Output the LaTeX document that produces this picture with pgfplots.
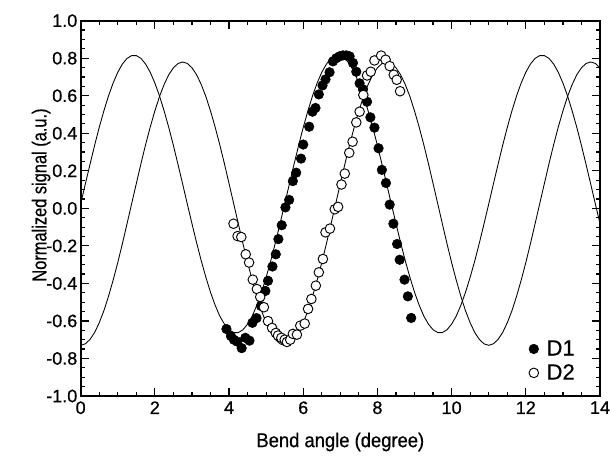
\documentclass[border=0pt]{standalone}
\usepackage{pgfplots}
\pgfplotsset{compat=1.18}
\usepackage{graphicx}
\usepackage{fontspec}
\setmainfont{Liberation Sans}[UprightFeatures={FakeBold=0.6}]
\begin{document}
\begin{tikzpicture}[x=1pt,y=1pt]
\path[use as bounding box] (-60.5,-44.25) rectangle (397,297);
\begin{axis}[
 scale only axis, width=389.5pt, height=281.5pt,
 xmin=0, xmax=14, ymin=-1, ymax=1,
 xtick={0,2,4,6,8,10,12,14},
 ytick={-1,-0.8,-0.6,-0.4,-0.2,0,0.2,0.4,0.6,0.8,1},
 minor x tick num=3, minor y tick num=3,
 tick align=inside, major tick length=6pt, minor tick length=3pt,
 axis line style={line width=1.4pt},
 every tick/.style={line width=0.9pt, black},
 /pgf/number format/assume math mode=true,
 ticklabel style={font=\fontsize{13.5}{15}\selectfont},
 xticklabel style={yshift=-0.5pt},
 yticklabel style={/pgf/number format/fixed, /pgf/number format/fixed zerofill, /pgf/number format/precision=1, xshift=1pt},
 xlabel={\scalebox{0.92}[1]{Bend angle (degree)}},
 ylabel={\scalebox{0.82}[1]{Normalized signal (a.u.)}},
 label style={font=\fontsize{15}{17}\selectfont},
 xlabel style={yshift=-7pt},
 ylabel style={yshift=-10pt, xshift=10pt},
 legend style={draw=none, fill=none, at={(0.975,0.02)}, anchor=south east,
   font=\fontsize{16.5}{18}\selectfont, row sep=-1pt,
   nodes={inner xsep=6pt, inner ysep=3pt}},
 legend cell align=left,
]
% fit curve for D1
\addplot[black, line width=0.65pt, forget plot] table {
x y
0 0.023
0.125 0.129
0.25 0.233
0.375 0.335
0.5 0.431
0.625 0.519
0.75 0.599
0.875 0.668
1.0 0.725
1.125 0.769
1.25 0.799
1.375 0.814
1.5 0.814
1.625 0.799
1.75 0.769
1.875 0.725
2.0 0.668
2.125 0.599
2.25 0.519
2.375 0.431
2.5 0.335
2.625 0.233
2.75 0.129
2.875 0.023
3.0 -0.081
3.125 -0.183
3.25 -0.279
3.375 -0.367
3.5 -0.447
3.625 -0.516
3.75 -0.574
3.875 -0.617
4.0 -0.647
4.125 -0.662
4.25 -0.662
4.375 -0.647
4.5 -0.617
4.625 -0.574
4.75 -0.516
4.875 -0.447
5.0 -0.367
5.125 -0.279
5.25 -0.183
5.375 -0.081
5.5 0.023
5.625 0.129
5.75 0.233
5.875 0.335
6.0 0.431
6.125 0.519
6.25 0.599
6.375 0.668
6.5 0.725
6.625 0.769
6.75 0.799
6.875 0.814
7.0 0.814
7.125 0.799
7.25 0.769
7.375 0.725
7.5 0.668
7.625 0.599
7.75 0.519
7.875 0.431
8.0 0.335
8.125 0.233
8.25 0.129
8.375 0.023
8.5 -0.081
8.625 -0.183
8.75 -0.279
8.875 -0.367
9.0 -0.447
9.125 -0.516
9.25 -0.574
9.375 -0.617
9.5 -0.647
9.625 -0.662
9.75 -0.662
9.875 -0.647
10.0 -0.617
10.125 -0.574
10.25 -0.516
10.375 -0.447
10.5 -0.367
10.625 -0.279
10.75 -0.183
10.875 -0.081
11.0 0.023
11.125 0.129
11.25 0.233
11.375 0.335
11.5 0.431
11.625 0.519
11.75 0.599
11.875 0.668
12.0 0.725
12.125 0.769
12.25 0.799
12.375 0.814
12.5 0.814
12.625 0.799
12.75 0.769
12.875 0.725
13.0 0.668
13.125 0.599
13.25 0.519
13.375 0.431
13.5 0.335
13.625 0.233
13.75 0.129
13.875 0.023
14.0 -0.081
};
% fit curve for D2
\addplot[black, line width=0.65pt, forget plot] table {
x y
0 -0.730
0.125 -0.722
0.25 -0.699
0.375 -0.662
0.5 -0.610
0.625 -0.546
0.75 -0.469
0.875 -0.383
1.0 -0.289
1.125 -0.188
1.25 -0.082
1.375 0.025
1.5 0.132
1.625 0.238
1.75 0.339
1.875 0.433
2.0 0.519
2.125 0.596
2.25 0.660
2.375 0.712
2.5 0.749
2.625 0.772
2.75 0.780
2.875 0.772
3.0 0.749
3.125 0.712
3.25 0.660
3.375 0.596
3.5 0.519
3.625 0.433
3.75 0.339
3.875 0.238
4.0 0.132
4.125 0.025
4.25 -0.082
4.375 -0.188
4.5 -0.289
4.625 -0.383
4.75 -0.469
4.875 -0.546
5.0 -0.610
5.125 -0.662
5.25 -0.699
5.375 -0.722
5.5 -0.730
5.625 -0.722
5.75 -0.699
5.875 -0.662
6.0 -0.610
6.125 -0.546
6.25 -0.469
6.375 -0.383
6.5 -0.289
6.625 -0.188
6.75 -0.082
6.875 0.025
7.0 0.132
7.125 0.238
7.25 0.339
7.375 0.433
7.5 0.519
7.625 0.596
7.75 0.660
7.875 0.712
8.0 0.749
8.125 0.772
8.25 0.780
8.375 0.772
8.5 0.749
8.625 0.712
8.75 0.660
8.875 0.596
9.0 0.519
9.125 0.433
9.25 0.339
9.375 0.238
9.5 0.132
9.625 0.025
9.75 -0.082
9.875 -0.188
10.0 -0.289
10.125 -0.383
10.25 -0.469
10.375 -0.546
10.5 -0.610
10.625 -0.662
10.75 -0.699
10.875 -0.722
11.0 -0.730
11.125 -0.722
11.25 -0.699
11.375 -0.662
11.5 -0.610
11.625 -0.546
11.75 -0.469
11.875 -0.383
12.0 -0.289
12.125 -0.188
12.25 -0.082
12.375 0.025
12.5 0.132
12.625 0.238
12.75 0.339
12.875 0.433
13.0 0.519
13.125 0.596
13.25 0.660
13.375 0.712
13.5 0.749
13.625 0.772
13.75 0.780
13.875 0.772
14.0 0.749
};
% D1
\addplot[only marks, mark=*, mark size=3.6pt, mark options={fill=black, draw=black}] table {
x y
3.93 -0.643
4.05 -0.680
4.13 -0.700
4.22 -0.710
4.34 -0.745
4.44 -0.690
4.55 -0.705
4.63 -0.610
4.74 -0.585
4.86 -0.520
4.98 -0.440
5.05 -0.386
5.17 -0.310
5.26 -0.245
5.33 -0.164
5.42 -0.090
5.52 0.005
5.62 0.045
5.72 0.145
5.81 0.190
5.94 0.265
6.00 0.340
6.16 0.435
6.25 0.515
6.33 0.535
6.42 0.607
6.52 0.655
6.60 0.687
6.71 0.725
6.80 0.783
6.89 0.800
6.98 0.810
7.07 0.815
7.16 0.815
7.25 0.810
7.34 0.775
7.43 0.728
7.52 0.666
7.61 0.634
7.72 0.568
7.81 0.485
7.92 0.430
8.03 0.320
8.12 0.205
8.23 0.135
8.33 0.020
8.43 -0.082
8.53 -0.190
8.60 -0.274
8.73 -0.380
8.82 -0.469
8.91 -0.584
};
\addlegendentry{D1}
% D2
\addplot[only marks, mark=*, mark size=3.6pt, mark options={fill=white, draw=black, line width=0.7pt}] table {
x y
4.12 -0.082
4.23 -0.148
4.33 -0.153
4.45 -0.245
4.54 -0.289
4.64 -0.380
4.75 -0.430
4.84 -0.472
4.94 -0.527
5.05 -0.601
5.16 -0.637
5.26 -0.664
5.32 -0.678
5.41 -0.690
5.50 -0.700
5.56 -0.712
5.65 -0.700
5.72 -0.669
5.83 -0.673
5.92 -0.625
6.04 -0.614
6.13 -0.536
6.22 -0.483
6.34 -0.412
6.42 -0.341
6.53 -0.270
6.60 -0.128
6.72 -0.108
6.85 -0.005
6.94 0.008
7.03 0.127
7.12 0.185
7.24 0.296
7.33 0.355
7.43 0.458
7.52 0.515
7.62 0.604
7.72 0.708
7.82 0.728
7.92 0.788
8.10 0.814
8.22 0.792
8.33 0.758
8.44 0.712
8.52 0.685
8.61 0.624
};
\addlegendentry{D2}
\end{axis}
\end{tikzpicture}
\end{document}
